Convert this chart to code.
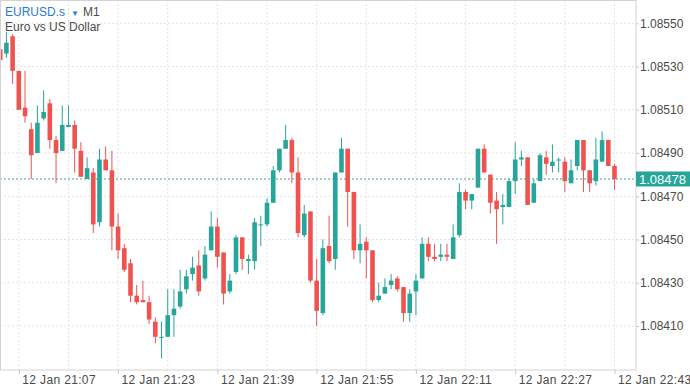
<!DOCTYPE html>
<html>
<head>
<meta charset="utf-8">
<script src="https://cdn.jsdelivr.net/npm/d3@7"></script>
<style>
    body { margin: 0; background: #fff; }
    svg { display: block; font-family: "Liberation Sans", Arial, sans-serif; }
</style>
</head>
<body>
<div id="chart"></div>
<script>
// data (EURUSD.s, M1, one candle per minute from firstCandle)
const symbol = "EURUSD.s";
const timeframe = "M1";
const description = "Euro vs US Dollar";
const firstCandle = "12 Jan 21:04";

const open = [
    1.08538, 1.08536, 1.08544, 1.08528, 1.08511, 1.08501, 1.08490, 1.08506, 1.08513, 1.08496,
    1.08491, 1.08502, 1.08503, 1.08491, 1.08478, 1.08481, 1.08458, 1.08487, 1.08482, 1.08456,
    1.08446, 1.08439, 1.08424, 1.08422, 1.08421, 1.08412, 1.08405, 1.08405, 1.08415, 1.08419,
    1.08427, 1.08434, 1.08438, 1.08432, 1.08445, 1.08456, 1.08444, 1.08426, 1.08435, 1.08451,
    1.08440, 1.08440, 1.08457, 1.08457, 1.08467, 1.08482, 1.08492, 1.08496, 1.08481, 1.08452,
    1.08463, 1.08431, 1.08416, 1.08447, 1.08441, 1.08481, 1.08492, 1.08472, 1.08445, 1.08449,
    1.08445, 1.08422, 1.08425, 1.08429, 1.08432, 1.08428, 1.08416, 1.08426, 1.08432, 1.08448,
    1.08442, 1.08442, 1.08443, 1.08441, 1.08452, 1.08472, 1.08468, 1.08474, 1.08492, 1.08480,
    1.08468, 1.08465, 1.08465, 1.08477, 1.08487, 1.08488, 1.08467, 1.08477, 1.08488, 1.08484,
    1.08487, 1.08486, 1.08476, 1.08484, 1.08496, 1.08482, 1.08477, 1.08486, 1.08496, 1.08484,
];
const high = [
    1.08539, 1.08546, 1.08545, 1.08528, 1.08528, 1.08504, 1.08512, 1.08519, 1.08515, 1.08498,
    1.08512, 1.08512, 1.08505, 1.08495, 1.08488, 1.08483, 1.08492, 1.08493, 1.08491, 1.08462,
    1.08448, 1.08441, 1.08429, 1.08431, 1.08424, 1.08414, 1.08412, 1.08427, 1.08427, 1.08436,
    1.08436, 1.08442, 1.08445, 1.08447, 1.08463, 1.08460, 1.08444, 1.08434, 1.08452, 1.08451,
    1.08443, 1.08460, 1.08461, 1.08469, 1.08484, 1.08492, 1.08503, 1.08497, 1.08488, 1.08466,
    1.08463, 1.08441, 1.08450, 1.08461, 1.08481, 1.08497, 1.08492, 1.08472, 1.08457, 1.08451,
    1.08445, 1.08430, 1.08432, 1.08434, 1.08433, 1.08428, 1.08427, 1.08434, 1.08451, 1.08451,
    1.08448, 1.08448, 1.08448, 1.08457, 1.08476, 1.08473, 1.08471, 1.08492, 1.08494, 1.08480,
    1.08472, 1.08471, 1.08478, 1.08495, 1.08491, 1.08488, 1.08478, 1.08490, 1.08491, 1.08494,
    1.08488, 1.08488, 1.08487, 1.08496, 1.08496, 1.08482, 1.08497, 1.08500, 1.08496, 1.08485,
];
const low = [
    1.08532, 1.08534, 1.08522, 1.08510, 1.08504, 1.08478, 1.08490, 1.08505, 1.08492, 1.08476,
    1.08491, 1.08502, 1.08481, 1.08479, 1.08478, 1.08453, 1.08456, 1.08482, 1.08445, 1.08441,
    1.08435, 1.08421, 1.08420, 1.08421, 1.08411, 1.08402, 1.08395, 1.08405, 1.08405, 1.08418,
    1.08425, 1.08431, 1.08424, 1.08431, 1.08445, 1.08437, 1.08420, 1.08425, 1.08434, 1.08436,
    1.08434, 1.08436, 1.08447, 1.08456, 1.08467, 1.08481, 1.08492, 1.08476, 1.08451, 1.08451,
    1.08430, 1.08410, 1.08415, 1.08439, 1.08436, 1.08481, 1.08456, 1.08441, 1.08439, 1.08432,
    1.08421, 1.08421, 1.08425, 1.08427, 1.08426, 1.08412, 1.08412, 1.08415, 1.08432, 1.08440,
    1.08440, 1.08440, 1.08440, 1.08441, 1.08451, 1.08464, 1.08464, 1.08474, 1.08481, 1.08462,
    1.08448, 1.08457, 1.08465, 1.08471, 1.08484, 1.08466, 1.08467, 1.08477, 1.08480, 1.08481,
    1.08481, 1.08472, 1.08476, 1.08482, 1.08472, 1.08472, 1.08475, 1.08486, 1.08484, 1.08473,
];
const close = [
    1.08533, 1.08541, 1.08528, 1.08510, 1.08507, 1.08489, 1.08504, 1.08509, 1.08496, 1.08490,
    1.08503, 1.08503, 1.08492, 1.08479, 1.08483, 1.08457, 1.08487, 1.08482, 1.08456, 1.08445,
    1.08436, 1.08424, 1.08421, 1.08421, 1.08413, 1.08405, 1.08405, 1.08415, 1.08418, 1.08426,
    1.08433, 1.08437, 1.08426, 1.08443, 1.08456, 1.08442, 1.08425, 1.08431, 1.08451, 1.08441,
    1.08441, 1.08458, 1.08457, 1.08467, 1.08482, 1.08492, 1.08496, 1.08481, 1.08453, 1.08462,
    1.08431, 1.08417, 1.08446, 1.08440, 1.08481, 1.08492, 1.08472, 1.08445, 1.08448, 1.08445,
    1.08422, 1.08424, 1.08428, 1.08431, 1.08427, 1.08416, 1.08425, 1.08431, 1.08448, 1.08442,
    1.08441, 1.08443, 1.08442, 1.08451, 1.08472, 1.08468, 1.08471, 1.08492, 1.08481, 1.08467,
    1.08464, 1.08466, 1.08477, 1.08487, 1.08488, 1.08466, 1.08476, 1.08489, 1.08485, 1.08486,
    1.08487, 1.08477, 1.08482, 1.08496, 1.08482, 1.08476, 1.08487, 1.08496, 1.08484, 1.08478,
];

const lastPrice = 1.08478;
const priceTicks = [1.0841, 1.0843, 1.0845, 1.0847, 1.0849, 1.0851, 1.0853, 1.0855];
const timeTicks = ["12 Jan 21:07", "12 Jan 21:23", "12 Jan 21:39", "12 Jan 21:55", "12 Jan 22:11", "12 Jan 22:27", "12 Jan 22:43"];

// CHART
const width = 690;
const height = 388;
const margin = { top: 0, right: 54, bottom: 18, left: 0 };
const innerWidth = width - margin.left - margin.right;
const innerHeight = height - margin.top - margin.bottom;

const upColor = "#26a69a";
const downColor = "#ef5350";
const gridColor = "#e4e4e4";
const labelColor = "#4a4a4a";

const parseTime = d3.timeParse("%d %b %H:%M");
const formatTime = d3.timeFormat("%d %b %H:%M");
const t0 = parseTime(firstCandle);

const candles = open.map((o, i) => ({
    time: d3.timeMinute.offset(t0, i),
    open: o,
    high: high[i],
    low: low[i],
    close: close[i],
}));

const svg = d3
    .select("div#chart")
    .append("svg")
    .attr("width", width)
    .attr("height", height);

// one minute = 6.205px, first candle sits at the left edge
const x = d3
    .scaleTime()
    .domain([d3.timeSecond.offset(t0, -2), d3.timeSecond.offset(t0, 6148)])
    .range([0, innerWidth]);

const y = d3
    .scaleLinear()
    .domain([1.0841, 1.0855])
    .range([326, 23.3]);

svg.append("clipPath")
    .attr("id", "plot-clip")
    .append("rect")
    .attr("width", innerWidth)
    .attr("height", innerHeight);

const grid = svg.append("g").attr("class", "grid");

const tickDates = timeTicks.map(parseTime);
const gridDates = d3.range(-1, tickDates.length * 2).map((k) => d3.timeMinute.offset(tickDates[0], k * 8));

grid.selectAll("line.v")
    .data(gridDates.filter((d) => x(d) > 1 && x(d) < innerWidth))
    .join("line")
    .attr("class", "v")
    .attr("x1", (d) => x(d))
    .attr("x2", (d) => x(d))
    .attr("y1", 0)
    .attr("y2", innerHeight)
    .attr("stroke", gridColor)
    .attr("stroke-dasharray", "2,2");

grid.selectAll("line.h")
    .data(priceTicks)
    .join("line")
    .attr("class", "h")
    .attr("x1", 0)
    .attr("x2", innerWidth)
    .attr("y1", (d) => y(d))
    .attr("y2", (d) => y(d))
    .attr("stroke", gridColor)
    .attr("stroke-dasharray", "2,2");

// candles
const elementGroup = svg
    .append("g")
    .attr("class", "candles")
    .attr("clip-path", "url(#plot-clip)");

const bodyWidth = 4.6;

const candle = elementGroup
    .selectAll("g")
    .data(candles)
    .join("g")
    .attr("fill", (d) => (d.close >= d.open ? upColor : downColor))
    .attr("stroke", (d) => (d.close >= d.open ? upColor : downColor));

candle.append("line")
    .attr("x1", (d) => x(d.time))
    .attr("x2", (d) => x(d.time))
    .attr("y1", (d) => y(d.high))
    .attr("y2", (d) => y(d.low))
    .attr("stroke-width", 1);

candle.append("rect")
    .attr("x", (d) => x(d.time) - bodyWidth / 2)
    .attr("y", (d) => y(Math.max(d.open, d.close)))
    .attr("width", bodyWidth)
    .attr("height", (d) => Math.max(1, Math.abs(y(d.open) - y(d.close))))
    .attr("stroke", "none");

// last price line
svg.append("line")
    .attr("x1", 0)
    .attr("x2", innerWidth)
    .attr("y1", y(lastPrice))
    .attr("y2", y(lastPrice))
    .attr("stroke", "#4f9d93")
    .attr("stroke-width", 1)
    .attr("stroke-dasharray", "2,2");

// frame
svg.append("rect")
    .attr("x", 0.5)
    .attr("y", 0.5)
    .attr("width", innerWidth - 0.5)
    .attr("height", innerHeight - 0.5)
    .attr("fill", "none")
    .attr("stroke", "#d3d3d3");

// axes
const xAxis = d3
    .axisBottom(x)
    .tickValues(tickDates)
    .tickSize(4)
    .tickFormat(formatTime);

const xAxisGroup = svg
    .append("g")
    .attr("class", "xAxisGroup")
    .attr("transform", `translate(0,${innerHeight})`)
    .call(xAxis)
    .attr("font-size", 12)
    .attr("font-family", "'Liberation Sans', Arial, sans-serif");

xAxisGroup.select(".domain").remove();
xAxisGroup.selectAll("line").attr("stroke", "#c8c8c8");
xAxisGroup
    .selectAll("text")
    .attr("text-anchor", "start")
    .attr("x", 3)
    .attr("y", 5)
    .attr("fill", labelColor)
    .style("letter-spacing", "0.35px");

const yAxis = d3
    .axisRight(y)
    .tickValues(priceTicks)
    .tickSize(3)
    .tickPadding(1)
    .tickFormat(d3.format(".5f"));

const yAxisGroup = svg
    .append("g")
    .attr("class", "yAxisGroup")
    .attr("transform", `translate(${innerWidth},0)`)
    .call(yAxis)
    .attr("font-size", 12)
    .attr("font-family", "'Liberation Sans', Arial, sans-serif");

yAxisGroup.select(".domain").remove();
yAxisGroup.selectAll("line").attr("stroke", "#c8c8c8");
yAxisGroup.selectAll("text").attr("fill", labelColor);

// last price tag
const tag = svg.append("g").attr("transform", `translate(${innerWidth},${y(lastPrice)})`);
tag.append("rect")
    .attr("x", 0)
    .attr("y", -7.5)
    .attr("width", margin.right)
    .attr("height", 15)
    .attr("fill", upColor);
tag.append("text")
    .attr("x", 3)
    .attr("y", 0)
    .attr("dy", "0.35em")
    .attr("fill", "#fff")
    .style("font-size", "13px")
    .text(d3.format(".5f")(lastPrice));

// title
const title = svg.append("g").attr("class", "title");
const titleLine = title.append("text").attr("x", 5).attr("y", 16).style("font-size", "12px");
titleLine.append("tspan").attr("fill", "#2b7bd3").text(symbol);
titleLine.append("tspan").attr("fill", "#2b7bd3").attr("dx", 6).style("font-size", "8px").text("▼");
titleLine.append("tspan").attr("fill", labelColor).attr("dx", 4).text(timeframe);

title.append("text")
    .attr("x", 5)
    .attr("y", 31)
    .attr("fill", labelColor)
    .style("font-size", "12px")
    .text(description);
</script>
</body>
</html>
